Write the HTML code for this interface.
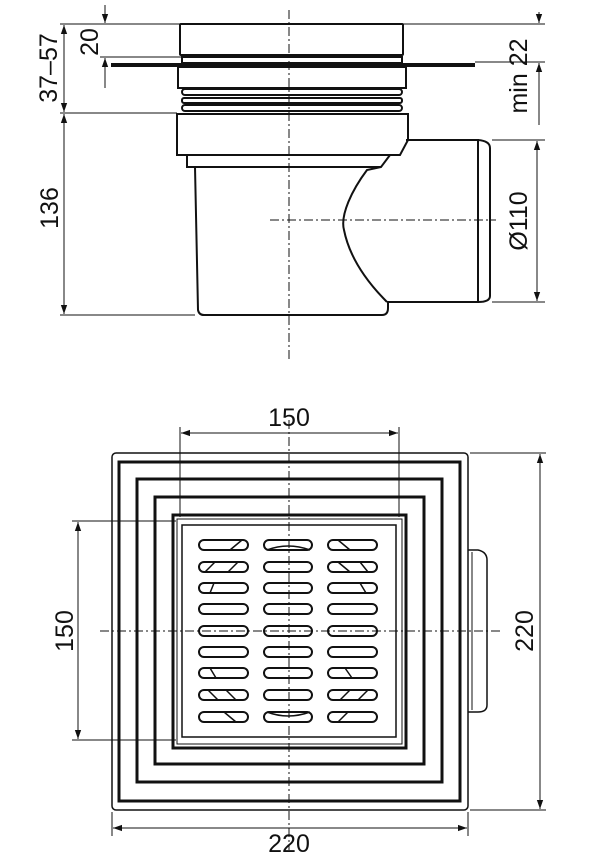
<!DOCTYPE html>
<html><head><meta charset="utf-8"><style>
html,body{margin:0;padding:0;background:#fff;}
svg{display:block;}
text{font-family:"Liberation Sans","DejaVu Sans",sans-serif;fill:#111;}
</style></head><body>
<svg width="606" height="866" viewBox="0 0 606 866" xmlns="http://www.w3.org/2000/svg">
<defs>
<marker id="a" viewBox="0 0 10 10" refX="10" refY="5" markerWidth="9" markerHeight="9" orient="auto-start-reverse" markerUnits="userSpaceOnUse"><path d="M0,1.5 L10,5 L0,8.5z" fill="#111"/></marker>
</defs>
<g stroke="#111" fill="none">
<line x1="289" y1="10" x2="289" y2="362" stroke-width="1" stroke-dasharray="9,3,2,3"/>
<line x1="270" y1="220" x2="496" y2="220" stroke-width="1" stroke-dasharray="9,3,2,3"/>
<g stroke-width="2">
<rect x="180" y="24" width="223" height="31" rx="1"/>
<rect x="182" y="57" width="220" height="6"/>
<rect x="178" y="67" width="228" height="21"/>
<rect x="182" y="89" width="220" height="6" rx="3"/>
<rect x="182" y="98" width="220" height="5" rx="2"/>
<rect x="182" y="105" width="220" height="6" rx="3"/>
<path d="M177,114 H408 V140 L400,155 H177 Z"/>
<path d="M187,155 V167 H381 L390,155"/>
<path d="M195,167 L198,310 Q199,315 204,315 H382 Q388,315 388,308 V302 H478 V140 H406"/>
<path d="M381,167 L367,170 C352,190 340,215 344,230 C350,260 370,285 387,302"/>
<path d="M478,140 Q490,141 490,148 V296 Q490,302 478,302"/>
</g>
<line x1="111" y1="65" x2="475" y2="65" stroke-width="4"/>
<g stroke-width="1">
<line x1="60" y1="24" x2="180" y2="24"/>
<line x1="60" y1="113" x2="177" y2="113"/>
<line x1="60" y1="315" x2="195" y2="315"/>
<line x1="64" y1="25" x2="64" y2="112" marker-start="url(#a)" marker-end="url(#a)"/>
<line x1="64" y1="114" x2="64" y2="314" marker-start="url(#a)" marker-end="url(#a)"/>
<line x1="105" y1="5" x2="105" y2="23" marker-end="url(#a)"/>
<line x1="105" y1="88" x2="105" y2="58" marker-end="url(#a)"/>
<line x1="100" y1="57" x2="182" y2="57"/>
<line x1="403" y1="24" x2="545" y2="24"/>
<line x1="475" y1="62" x2="545" y2="62"/>
<line x1="539" y1="12" x2="539" y2="23" marker-end="url(#a)"/>
<line x1="539" y1="125" x2="539" y2="63" marker-end="url(#a)"/>
<line x1="492" y1="140" x2="545" y2="140"/>
<line x1="492" y1="302" x2="545" y2="302"/>
<line x1="537" y1="141" x2="537" y2="301" marker-start="url(#a)" marker-end="url(#a)"/>
</g>
<line x1="289" y1="420" x2="289" y2="850" stroke-width="1" stroke-dasharray="9,3,2,3"/>
<line x1="100" y1="631" x2="500" y2="631" stroke-width="1" stroke-dasharray="9,3,2,3"/>
<rect x="112" y="453" width="356" height="357" rx="4" stroke-width="1.5"/>
<rect x="119" y="462" width="341" height="339" stroke-width="3"/>
<rect x="137" y="479" width="305" height="303" stroke-width="3"/>
<rect x="155" y="497" width="269" height="267" stroke-width="3"/>
<rect x="173" y="515" width="233" height="233" stroke-width="3"/>
<rect x="177" y="519" width="225" height="225" stroke-width="1"/>
<rect x="182" y="525" width="214" height="212" stroke-width="1.5"/>
<path d="M468,550 H478 Q487,552 487,560 V705 Q487,712 478,712 H468" stroke-width="1.5"/>
<line x1="472" y1="552" x2="472" y2="710" stroke-width="1"/>
<g stroke-width="2">
<rect x="199" y="540" width="49" height="10" rx="5"/><rect x="264" y="540" width="48" height="10" rx="5"/><rect x="328" y="540" width="49" height="10" rx="5"/>
<rect x="199" y="562" width="49" height="10" rx="5"/><rect x="264" y="562" width="48" height="10" rx="5"/><rect x="328" y="562" width="49" height="10" rx="5"/>
<rect x="199" y="583" width="49" height="10" rx="5"/><rect x="264" y="583" width="48" height="10" rx="5"/><rect x="328" y="583" width="49" height="10" rx="5"/>
<rect x="199" y="604" width="49" height="10" rx="5"/><rect x="264" y="604" width="48" height="10" rx="5"/><rect x="328" y="604" width="49" height="10" rx="5"/>
<rect x="199" y="626" width="49" height="10" rx="5"/><rect x="264" y="626" width="48" height="10" rx="5"/><rect x="328" y="626" width="49" height="10" rx="5"/>
<rect x="199" y="647" width="49" height="10" rx="5"/><rect x="264" y="647" width="48" height="10" rx="5"/><rect x="328" y="647" width="49" height="10" rx="5"/>
<rect x="199" y="668" width="49" height="10" rx="5"/><rect x="264" y="668" width="48" height="10" rx="5"/><rect x="328" y="668" width="49" height="10" rx="5"/>
<rect x="199" y="690" width="49" height="10" rx="5"/><rect x="264" y="690" width="48" height="10" rx="5"/><rect x="328" y="690" width="49" height="10" rx="5"/>
<rect x="199" y="712" width="49" height="10" rx="5"/><rect x="264" y="712" width="48" height="10" rx="5"/><rect x="328" y="712" width="49" height="10" rx="5"/>
</g>
<g stroke-width="1.5">
<path d="M230,550 L242,540 M205,572 L215,562 M228,572 L238,562 M210,593 L214,583 M338,540 L350,550 M338,562 L350,572 M360,562 L368,572 M360,583 L366,593 M210,668 L216,678 M208,690 L218,700 M226,690 L236,700 M224,712 L236,722 M345,668 L352,678 M340,700 L350,690 M358,700 L368,690 M338,722 L348,712"/>
<path d="M267,550 Q288,542 310,550 M267,712 Q288,720 310,712"/>
</g>
<g stroke-width="1">
<line x1="180" y1="427" x2="180" y2="517"/>
<line x1="399" y1="427" x2="399" y2="517"/>
<line x1="181" y1="433" x2="398" y2="433" marker-start="url(#a)" marker-end="url(#a)"/>
<line x1="72" y1="521" x2="176" y2="521"/>
<line x1="72" y1="740" x2="176" y2="740"/>
<line x1="78" y1="522" x2="78" y2="739" marker-start="url(#a)" marker-end="url(#a)"/>
<line x1="470" y1="453" x2="546" y2="453"/>
<line x1="470" y1="810" x2="546" y2="810"/>
<line x1="540" y1="454" x2="540" y2="809" marker-start="url(#a)" marker-end="url(#a)"/>
<line x1="112" y1="812" x2="112" y2="836"/>
<line x1="468" y1="812" x2="468" y2="836"/>
<line x1="113" y1="828" x2="467" y2="828" marker-start="url(#a)" marker-end="url(#a)"/>
</g>
</g>
<g font-size="25">
<text x="289" y="426" text-anchor="middle">150</text>
<text x="289" y="852" text-anchor="middle">220</text>
<text transform="translate(73,631) rotate(-90)" text-anchor="middle">150</text>
<text transform="translate(533,631) rotate(-90)" text-anchor="middle">220</text>
<text transform="translate(57,68) rotate(-90)" text-anchor="middle">37–57</text>
<text transform="translate(58,208) rotate(-90)" text-anchor="middle">136</text>
<text transform="translate(98,42) rotate(-90)" text-anchor="middle">20</text>
<text transform="translate(527,76) rotate(-90)" text-anchor="middle">min 22</text>
<text transform="translate(527,221) rotate(-90)" text-anchor="middle">Ø110</text>
</g>
</svg>
</body></html>
